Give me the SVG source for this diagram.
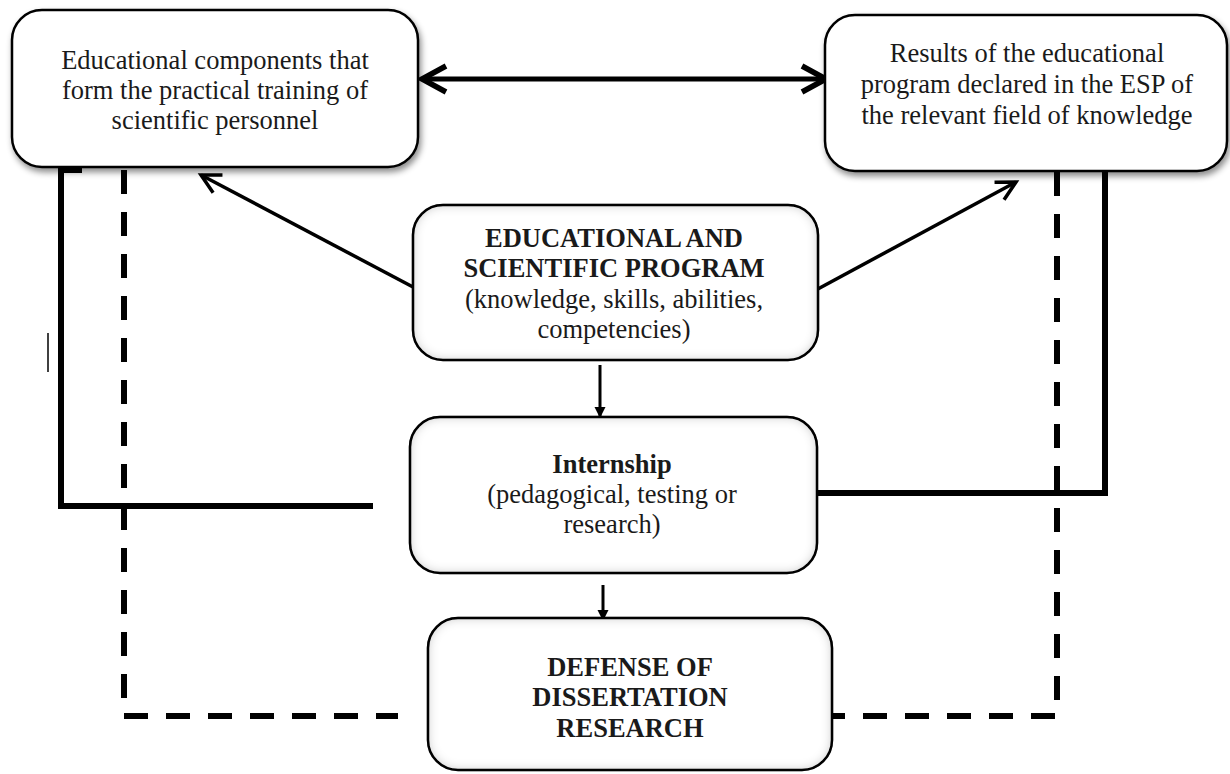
<svg xmlns="http://www.w3.org/2000/svg" width="1230" height="774" viewBox="0 0 1230 774">
<style>
.box{fill:#fff;stroke:#000;stroke-width:2.5}
.t{font-family:"Liberation Serif","Times New Roman",serif;font-size:26.5px;fill:#1a1a1a;text-anchor:middle}
.b{font-weight:bold}
.solid{fill:none;stroke:#000;stroke-width:6}
.dash{fill:none;stroke:#000;stroke-width:6;stroke-dasharray:24 18}
.arr{fill:none;stroke:#000;stroke-width:3.5}
</style>
<defs>
<filter id="drop" x="-10%" y="-10%" width="125%" height="130%">
<feDropShadow dx="2" dy="4" stdDeviation="3" flood-color="#000" flood-opacity="0.45"/>
</filter>
<filter id="inner" x="-10%" y="-10%" width="125%" height="130%">
<feFlood flood-color="#000" flood-opacity="0.6"/>
<feComposite in2="SourceAlpha" operator="out"/>
<feGaussianBlur stdDeviation="6"/>
<feComposite in2="SourceAlpha" operator="in" result="sh"/>
<feMerge><feMergeNode in="SourceGraphic"/><feMergeNode in="sh"/></feMerge>
</filter>
<marker id="big" markerUnits="userSpaceOnUse" markerWidth="40" markerHeight="40" viewBox="-30 -20 40 40" refX="0" refY="0" orient="auto-start-reverse" overflow="visible">
<path d="M-24,-13 L0,0 L-24,13" fill="none" stroke="#000" stroke-width="5.5"/>
</marker>
<marker id="open" markerUnits="userSpaceOnUse" markerWidth="30" markerHeight="30" viewBox="-25 -15 30 30" refX="0" refY="0" orient="auto" overflow="visible">
<path d="M-19,-10 L0,0 L-19,10" fill="none" stroke="#000" stroke-width="3.5"/>
</marker>
<marker id="tri" markerUnits="userSpaceOnUse" markerWidth="20" markerHeight="20" viewBox="-15 -10 20 20" refX="0" refY="0" orient="auto" overflow="visible">
<path d="M-11,-5.5 L0,0 L-11,5.5 z" fill="#000"/>
</marker>
</defs>
<rect width="1230" height="774" fill="#fff"/>

<g id="connectors">
<line x1="422" y1="79" x2="826" y2="79" stroke="#000" stroke-width="5" marker-start="url(#big)" marker-end="url(#big)"/>
<line class="arr" x1="413" y1="287" x2="201" y2="175" marker-end="url(#open)"/>
<line class="arr" x1="816" y1="290" x2="1016" y2="182" marker-end="url(#open)"/>
<line x1="600" y1="365" x2="600" y2="418" stroke="#000" stroke-width="3" marker-end="url(#tri)"/>
<line x1="603" y1="585" x2="603" y2="621" stroke="#000" stroke-width="3" marker-end="url(#tri)"/>
<path class="solid" d="M82,170 L61,170 L61,506 L373,506"/>
<path class="dash" d="M124,170 L124,716 L398,716"/>
<path class="solid" d="M801,493 L1105,493 L1105,172"/>
<path class="dash" d="M1057,172 L1057,716 L822,716"/>
<line x1="48" y1="333" x2="48" y2="372" stroke="#000" stroke-width="1.5"/>
</g>

<g id="node-components">
<rect class="box" x="12" y="10" width="406" height="157" rx="30" filter="url(#drop)"/>
<text class="t" x="215" y="69">Educational components that</text>
<text class="t" x="215" y="99">form the practical training of</text>
<text class="t" x="215" y="129">scientific personnel</text>
</g>

<g id="node-results">
<rect class="box" x="825" y="15" width="402" height="156" rx="30" filter="url(#drop)"/>
<text class="t" x="1027" y="62">Results of the educational</text>
<text class="t" x="1027" y="93">program declared in the ESP of</text>
<text class="t" x="1027" y="124">the relevant field of knowledge</text>
</g>

<g id="node-esp">
<rect class="box" x="413" y="205" width="405" height="155" rx="30" filter="url(#inner)"/>
<text class="t b" x="614" y="247">EDUCATIONAL AND</text>
<text class="t b" x="614" y="277">SCIENTIFIC PROGRAM</text>
<text class="t" x="614" y="308">(knowledge, skills, abilities,</text>
<text class="t" x="614" y="338">competencies)</text>
</g>

<g id="node-internship">
<rect class="box" x="410" y="417" width="407" height="156" rx="30" filter="url(#inner)"/>
<text class="t b" x="612" y="473">Internship</text>
<text class="t" x="612" y="503">(pedagogical, testing or</text>
<text class="t" x="612" y="533">research)</text>
</g>

<g id="node-defense">
<rect class="box" x="428" y="618" width="404" height="152" rx="30" filter="url(#inner)"/>
<text class="t b" x="630" y="676">DEFENSE OF</text>
<text class="t b" x="630" y="706">DISSERTATION</text>
<text class="t b" x="630" y="737">RESEARCH</text>
</g>
</svg>
